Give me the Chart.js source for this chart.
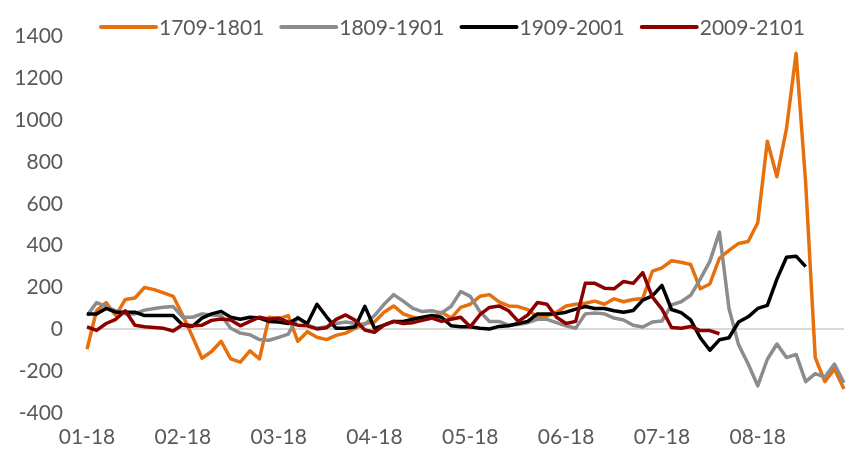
<!DOCTYPE html>
<html><head><meta charset="utf-8">
<script src="https://cdn.jsdelivr.net/npm/chart.js@4.4.1/dist/chart.umd.min.js"></script>
<style>html,body{margin:0;padding:0;background:#fff;}canvas{display:block;}</style>
</head><body>
<canvas id="c" width="856" height="455"></canvas>
<script>
const tickLabels = ['01-18','02-18','03-18','04-18','05-18','06-18','07-18','08-18'];
const pointsPerMonth = 10;
const pointCount = 80;
const categories = Array.from({length: pointCount}, (_, i) => i % pointsPerMonth === 0 ? tickLabels[i / pointsPerMonth] : '');

const seriesNames = ['1709-1801', '1809-1901', '1909-2001', '2009-2101'];

const s1709 = [-95,90,128,66,143,150,200,190,174,158,66,-34,-138,-106,-57,-141,-157,-103,-141,58,
  51,66,-57,-11,-38,-49,-29,-18,5,28,35,82,112,74,58,48,54,82,54,105,
  120,158,166,131,112,109,94,58,63,82,112,120,125,135,120,146,132,143,148,278,
  294,328,321,310,194,217,340,378,411,420,510,900,730,960,1320,700,-135,-250,-190,-285];

const s1809 = [66,128,109,89,74,74,92,100,106,109,58,58,74,69,66,5,-18,-26,-49,-52,
  -38,-23,58,20,5,12,28,35,28,23,66,120,166,135,100,85,89,78,110,181,
  158,85,38,38,20,23,32,48,48,32,17,5,74,78,74,54,45,20,11,35,
  40,117,132,163,240,325,465,100,-74,-166,-270,-143,-70,-135,-120,-250,-212,-228,-166,-255];

const s1909 = [74,74,100,82,82,82,66,66,66,66,20,15,54,74,86,58,48,58,54,38,
  35,28,54,28,120,60,5,5,12,110,5,20,38,38,48,58,66,58,17,12,
  12,5,2,14,17,28,38,74,74,74,82,97,109,100,100,89,82,90,140,160,
  210,95,80,45,-40,-100,-50,-40,35,60,100,115,240,345,350,300,null,null,null,null];

const s2009 = [12,-5,28,48,89,20,12,9,5,-8,23,17,20,43,50,45,17,38,58,48,
  54,35,20,17,2,8,48,69,43,-3,-14,20,38,28,32,43,54,38,48,58,
  12,70,105,112,89,38,69,128,120,58,28,38,220,220,197,194,229,220,271,155,
  97,9,5,14,-6,-6,-21,null,null,null,null,null,null,null,null,null,null,null,null,null];

const seriesColors = ['#E8700C', '#8C8C8C', '#000000', '#8B0000'];
const FONT = 'Lato, "Liberation Sans", sans-serif';

const lineLegend = {
  id: 'lineLegend',
  afterDraw(chart, args, o) {
    const ctx = chart.ctx;
    ctx.save();
    ctx.font = o.fontSize + 'px ' + FONT;
    ctx.textBaseline = 'middle';
    ctx.textAlign = 'left';
    let x = o.x;
    chart.data.datasets.forEach(ds => {
      ctx.strokeStyle = ds.borderColor;
      ctx.lineWidth = o.lineWidth;
      ctx.lineCap = 'round';
      ctx.beginPath();
      ctx.moveTo(x, o.y);
      ctx.lineTo(x + o.lineLen, o.y);
      ctx.stroke();
      ctx.fillStyle = o.color;
      const tx = x + o.lineLen + o.gap;
      ctx.fillText(ds.label, tx, o.y + 1);
      x = tx + ctx.measureText(ds.label).width + o.spacing;
    });
    ctx.restore();
  }
};

const seriesData = [s1709, s1809, s1909, s2009];
const orderOnTop = [3, 2, 1, 0];

new Chart(document.getElementById('c'), {
  type: 'line',
  data: {
    labels: categories,
    datasets: seriesNames.map((name, k) => ({
      label: name,
      data: seriesData[k],
      borderColor: seriesColors[k],
      backgroundColor: seriesColors[k],
      borderWidth: 3.5,
      borderJoinStyle: 'round',
      pointRadius: 0,
      tension: 0,
      fill: false,
      spanGaps: false,
      order: orderOnTop[k]
    }))
  },
  options: {
    responsive: false,
    animation: false,
    devicePixelRatio: 1,
    layout: {padding: {top: 23, right: 0, bottom: 0, left: 0}},
    plugins: {
      legend: {display: false},
      tooltip: {enabled: false},
      lineLegend: {x: 101, y: 27, lineLen: 55, gap: 3, spacing: 17, fontSize: 21, lineWidth: 4, color: '#595959'}
    },
    scales: {
      x: {
        type: 'category',
        grid: {display: false, drawTicks: false},
        border: {display: false},
        ticks: {autoSkip: false, maxRotation: 0, minRotation: 0, padding: 12, color: '#595959', font: {family: FONT, size: 21}},
        afterFit: s => { s.height = 42; }
      },
      y: {
        min: -400, max: 1400,
        grid: {drawTicks: false, lineWidth: 2, color: c => (c.tick && c.tick.value === 0) ? '#D9D9D9' : 'rgba(0,0,0,0)'},
        border: {display: false},
        ticks: {stepSize: 200, padding: 24, color: '#595959', font: {family: FONT, size: 21}, callback: v => String(v)},
        afterFit: s => { s.width = 87; }
      }
    }
  },
  plugins: [lineLegend]
});
</script>
</body></html>
